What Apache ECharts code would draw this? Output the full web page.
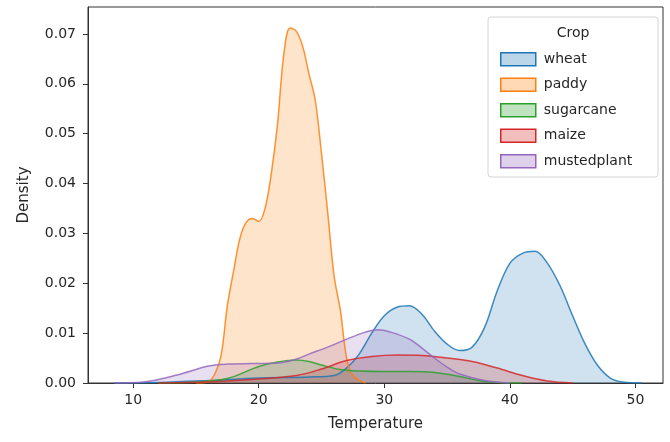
<!DOCTYPE html>
<html>
<head>
<meta charset="utf-8">
<script src="https://cdn.jsdelivr.net/npm/echarts@6/dist/echarts.min.js"></script>
<style>
  html, body { margin: 0; padding: 0; background: #fff; }
  #main { width: 670px; height: 442px; }
</style>
</head>
<body>
<div id="main"></div>
<script>
// tick labels
var xTicks = [10, 20, 30, 40, 50];
var yTicks = [0, 0.01, 0.02, 0.03, 0.04, 0.05, 0.06, 0.07];

var crops = ['wheat', 'paddy', 'sugarcane', 'maize', 'mustedplant'];
var colors = ['#1f77b4', '#ff7f0e', '#2ca02c', '#d62728', '#9467bd'];

// density curves (temperature, density)
var wheatX = [8.5, 12, 16, 20, 24, 26, 27, 28, 29, 30, 31, 32, 33, 34, 35, 36, 37, 38, 39, 40, 41, 42, 43, 44, 45, 46, 47, 48, 49, 50.5];
var wheatY = [0, 0.0001, 0.0005, 0.0010, 0.0012, 0.0015, 0.0030, 0.0058, 0.0100, 0.0135, 0.0152, 0.0155, 0.0138, 0.0104, 0.0078, 0.0065, 0.0072, 0.0112, 0.0185, 0.0240, 0.0260, 0.0264, 0.0240, 0.0195, 0.0135, 0.0078, 0.0035, 0.0010, 0.0002, 0];

var paddyX = [15, 16, 16.5, 17, 17.5, 18, 18.5, 19, 19.5, 20, 20.5, 21, 21.5, 22, 22.5, 23, 23.5, 24, 24.5, 25, 25.5, 26, 26.5, 27, 27.5, 28.5];
var paddyY = [0, 0.0003, 0.0018, 0.0055, 0.0155, 0.0225, 0.0290, 0.0322, 0.0330, 0.0324, 0.0350, 0.0420, 0.0520, 0.0660, 0.0712, 0.0705, 0.0675, 0.0620, 0.0567, 0.0460, 0.0340, 0.0215, 0.0146, 0.0050, 0.0015, 0];

var sugarcaneX = [12, 15, 17.5, 20, 21.5, 23, 24, 25, 26.5, 28, 30, 32, 34, 36, 37.5, 39, 41];
var sugarcaneY = [0, 0.0002, 0.0009, 0.0033, 0.0042, 0.0046, 0.0043, 0.0036, 0.0027, 0.0024, 0.0023, 0.0023, 0.0021, 0.0013, 0.0005, 0.0001, 0];

var maizeX = [12, 16, 20, 23, 25, 27, 29, 31, 33, 35, 37, 39, 41, 43, 45];
var maizeY = [0, 0.0002, 0.0008, 0.0015, 0.0028, 0.0045, 0.0053, 0.0056, 0.0055, 0.0050, 0.0043, 0.0030, 0.0015, 0.0004, 0];

var mustedplantX = [8.5, 10.8, 13.5, 16, 17.5, 19.5, 21.5, 23, 24, 25.5, 27, 28.5, 29.5, 30.5, 32, 33, 34, 35, 36, 38, 40];
var mustedplantY = [0, 0.0002, 0.0016, 0.0034, 0.0038, 0.0039, 0.0040, 0.0048, 0.0058, 0.0072, 0.0088, 0.0102, 0.0107, 0.0102, 0.0088, 0.0070, 0.0050, 0.0032, 0.0018, 0.0005, 0];

var curveX = [wheatX, paddyX, sugarcaneX, maizeX, mustedplantX];
var curveY = [wheatY, paddyY, sugarcaneY, maizeY, mustedplantY];

function fade(hex, a) {
  var n = parseInt(hex.slice(1), 16);
  return 'rgba(' + (n >> 16) + ',' + ((n >> 8) & 255) + ',' + (n & 255) + ',' + a + ')';
}

var font = 'DejaVu Sans';
var textColor = '#262626';

var series = crops.map(function (name, i) {
  return {
    name: name,
    type: 'line',
    smooth: 0.35,
    symbol: 'none',
    data: curveX[i].map(function (x, j) { return [x, curveY[i][j]]; }),
    lineStyle: { color: colors[i], width: 1.5, opacity: 0.85 },
    itemStyle: { color: colors[i] },
    areaStyle: { color: fade(colors[i], 0.3), origin: 'start' }
  };
});

var option = {
  animation: false,
  backgroundColor: '#fff',
  grid: {
    left: 88, right: 7, top: 7, bottom: 59,
    show: true, borderColor: '#333', borderWidth: 1
  },
  xAxis: {
    type: 'value',
    min: 6.4,
    max: 52.2,
    name: 'Temperature',
    nameLocation: 'middle',
    nameGap: 34,
    nameTextStyle: { fontFamily: font, fontSize: 15, color: textColor },
    splitLine: { show: false },
    axisLine: { show: true, lineStyle: { color: '#333' } },
    axisTick: { show: true, length: 5, customValues: xTicks, lineStyle: { color: '#333' } },
    axisLabel: {
      customValues: xTicks, margin: 10,
      fontFamily: font, fontSize: 14, color: textColor
    }
  },
  yAxis: {
    type: 'value',
    min: 0,
    max: 0.0754,
    name: 'Density',
    nameLocation: 'middle',
    nameGap: 56,
    nameTextStyle: { fontFamily: font, fontSize: 15, color: textColor },
    splitLine: { show: false },
    axisLine: { show: true, lineStyle: { color: '#333' } },
    axisTick: { show: true, length: 5, customValues: yTicks, lineStyle: { color: '#333' } },
    axisLabel: {
      customValues: yTicks, margin: 12,
      fontFamily: font, fontSize: 14, color: textColor,
      formatter: function (v) { return v.toFixed(2); }
    }
  },
  legend: {
    orient: 'vertical',
    left: 495,
    top: 47,
    icon: 'rect',
    itemWidth: 35,
    itemHeight: 13,
    itemGap: 11,
    selectedMode: false,
    textStyle: { fontFamily: font, fontSize: 14, color: textColor, padding: [0, 0, 0, 3] },
    data: crops.map(function (name, i) {
      return {
        name: name,
        itemStyle: { color: fade(colors[i], 0.3), borderColor: colors[i], borderWidth: 1.5 }
      };
    })
  },
  graphic: [
    {
      type: 'rect', z: 3,
      shape: { x: 488, y: 17, width: 170, height: 160, r: 3 },
      style: { fill: 'rgba(255,255,255,0.85)', stroke: '#d4d4d4', lineWidth: 1 }
    },
    {
      type: 'text', z: 4,
      x: 573, y: 33,
      style: {
        text: 'Crop', fontFamily: font, fontSize: 14, fill: textColor,
        align: 'center', verticalAlign: 'middle'
      }
    }
  ],
  series: series
};

var chart = echarts.init(document.getElementById('main'));
chart.setOption(option);
</script>
</body>
</html>
